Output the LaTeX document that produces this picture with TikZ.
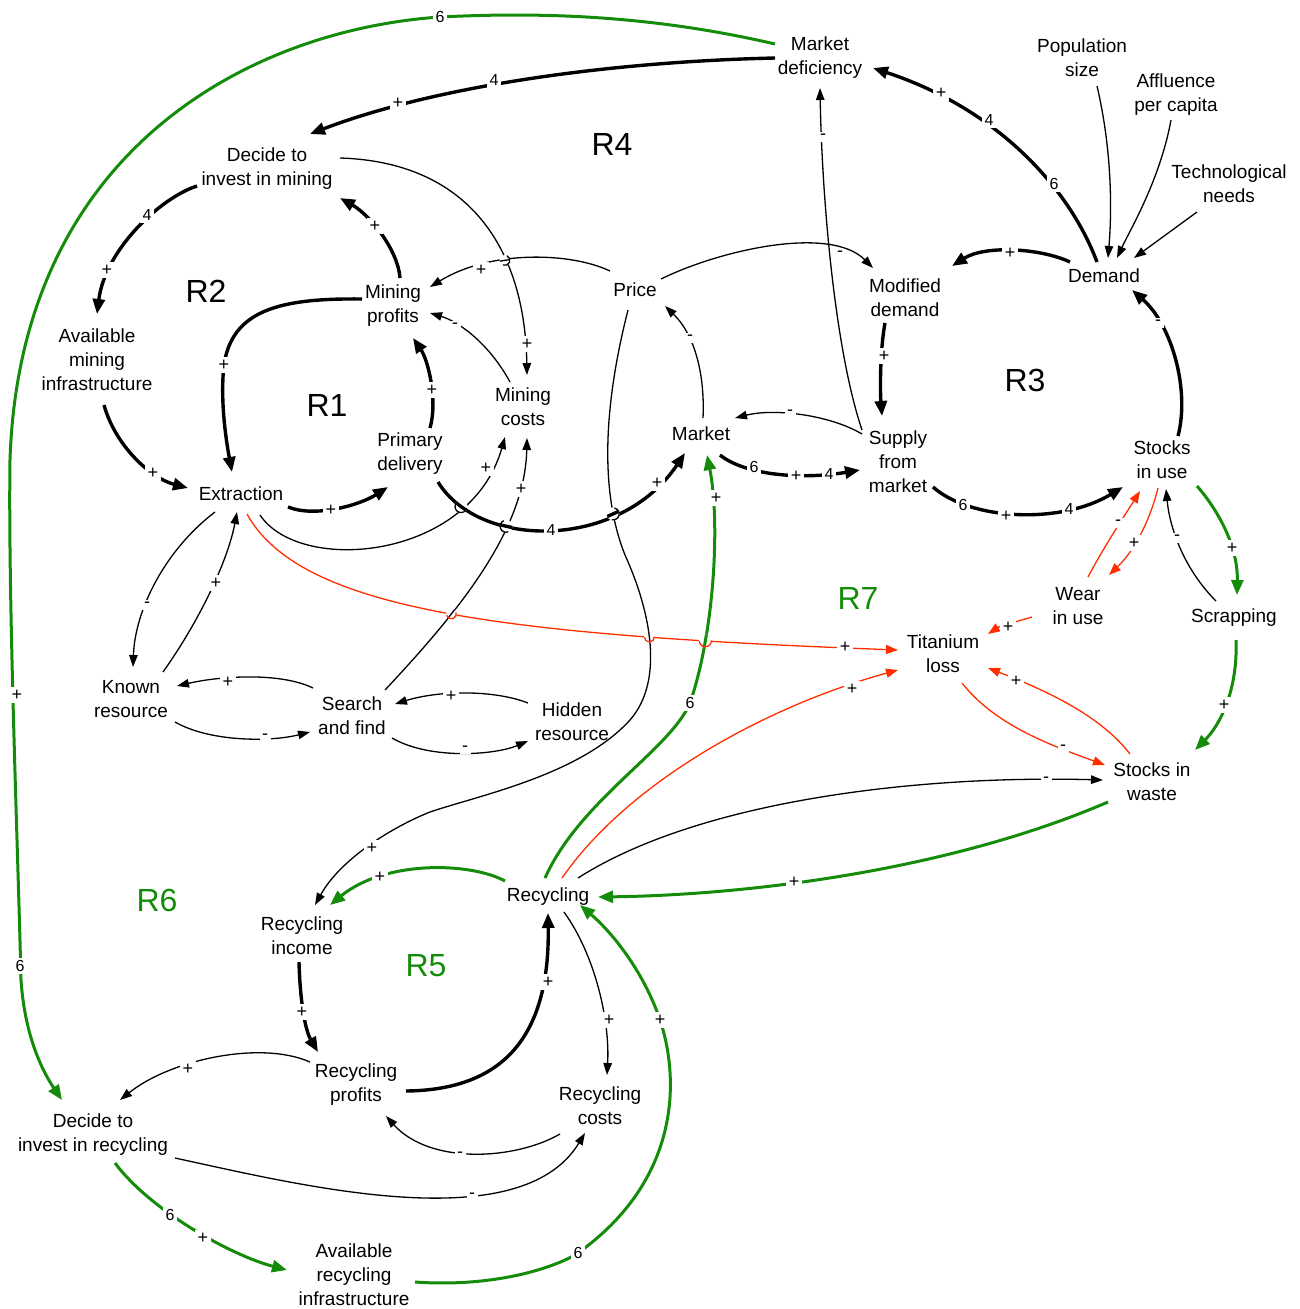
\documentclass[tikz,border=0pt]{standalone}
\usepackage{fontspec}
\setmainfont{Liberation Sans}
\usetikzlibrary{arrows.meta,intersections}
\definecolor{vgreen}{RGB}{20,140,10}
\definecolor{vred}{RGB}{255,45,0}
\tikzset{
  var/.style={align=center, inner sep=0pt, font=\fontsize{19}{24}\selectfont},
  loopname/.style={inner sep=0pt, font=\fontsize{32}{32}\selectfont},
  cthin/.style={line width=1.3pt, -{Triangle[length=12pt,width=8.5pt]}},
  cthick/.style={line width=3.4pt, -{Triangle[length=15pt,width=12pt]}},
  cgrn/.style={draw=vgreen, line width=3pt, -{Triangle[length=15pt,width=12pt]}},
  cred/.style={draw=vred, line width=1.3pt, -{Triangle[length=12pt,width=9pt]}},
  lab/.style={fill=white, inner sep=2.5pt, text=black, font=\fontsize{18}{18}\selectfont},
  dlab/.style={fill=white, inner sep=2.5pt, text=black, font=\fontsize{16}{16}\selectfont},
  hopthin/.style={line width=1.3pt},
}
\def\pathSMC{([shift={(33,-26)}]sf.center) .. controls (460,610) and (525,530) .. ([shift={(4,31)}]mc.center)}
\def\pathPRI{([shift={(-7,20)}]price.center) .. controls (600,420) and (603,500) .. (625,555)
  .. controls (650,610) and (665,680) .. (630,720)
  .. controls (580,775) and (480,795) .. (430,812)
  .. controls (390,828) and (340,860) .. ([shift={(13,-31)}]ri.center)}
\def\pathRM{([shift={(-3,-19)}]rec.center) .. controls (580,800) and (670,750) .. (690,703)
  .. controls (715,630) and (720,520) .. ([shift={(6,21)}]mkt.center)}
\def\pathPMP{([shift={(-25,-19)}]price.center) .. controls (570,252) and (490,250) .. ([shift={(37,-19)}]mp.center)}
\def\pathPDM{([shift={(28,28)}]pd.center) .. controls (480,550) and (620,550) .. ([shift={(-16,19)}]mkt.center)}
\begin{document}
\begin{tikzpicture}[x=1pt,y=-1pt]
\useasboundingbox (0,0) rectangle (1299,1309);
% ---------- variables ----------
\node[var] (md) at (820,58) {Market\\deficiency};
\node[var] (pop) at (1082,58) {Population\\size};
\node[var] (aff) at (1176,95) {Affluence\\per capita};
\node[var] (tech) at (1229,184) {Technological\\needs};
\node[var] (dim) at (267,169) {Decide to\\invest in mining};
\node[var] (ami) at (97,360) {Available\\mining\\infrastructure};
\node[var] (mp) at (393,306) {Mining\\profits};
\node[var] (price) at (635,290) {Price};
\node[var] (mdem) at (905,298) {Modified\\demand};
\node[var] (dem) at (1104,276) {Demand};
\node[var] (mc) at (523,407) {Mining\\costs};
\node[var] (pd) at (410,454) {Primary\\delivery};
\node[var] (mkt) at (701,434) {Market};
\node[var] (sfm) at (898,462) {Supply\\from\\market};
\node[var] (siu) at (1162,460) {Stocks\\in use};
\node[var] (ext) at (241,494) {Extraction};
\node[var] (wiu) at (1078,606) {Wear\\in use};
\node[var] (scr) at (1234,618) {Scrapping};
\node[var] (tl) at (943,654) {Titanium\\loss};
\node[var] (kr) at (131,699) {Known\\resource};
\node[var] (sf) at (352,716) {Search\\and find};
\node[var] (hr) at (572,722) {Hidden\\resource};
\node[var] (siw) at (1152,782) {Stocks in\\waste};
\node[var] (rec) at (548,897) {Recycling};
\node[var] (ri) at (302,936) {Recycling\\income};
\node[var] (rp) at (356,1085) {Recycling\\profits};
\node[var] (rc) at (600,1106) {Recycling\\costs};
\node[var] (dir) at (93,1135) {Decide to\\invest in recycling};
\node[var] (ari) at (354,1275) {Available\\recycling\\infrastructure};
% ---------- loop names ----------
\node[loopname] (r4) at (612,144) {R4};
\node[loopname] (r2) at (206,291) {R2};
\node[loopname] (r1) at (327,405) {R1};
\node[loopname] (r3) at (1025,380) {R3};
\node[loopname, text=vgreen] (r7) at (858,598) {R7};
\node[loopname, text=vgreen] (r6) at (157,900) {R6};
\node[loopname, text=vgreen] (r5) at (426,966) {R5};
% ---------- connectors ----------
\draw[cthick] ([shift={(-45,0)}]md.center) .. controls (600,62) and (430,88) .. ([shift={(43,-35)}]dim.center)
  node[dlab] (l1) at (494,80) {4} node[lab] (l2) at (398,103) {+};
\draw[cgrn] ([shift={(-45,-14)}]md.center) .. controls (650,15) and (540,12) .. (440,17)
  .. controls (250,30) and (20,150) .. (10,460)
  .. controls (8,600) and (18,850) .. (21,980)
  .. controls (25,1040) and (45,1075) .. ([shift={(-31,-35)}]dir.center)
  node[dlab] (l3) at (440,17) {6} node[lab] (l4) at (17,695) {+} node[dlab] (l5) at (20,966) {6};
\draw[cthick] ([shift={(-7,-14)}]dem.center) .. controls (1070,190) and (1000,110) .. ([shift={(53,10)}]md.center)
  node[dlab] (l6) at (1054,184) {6} node[dlab] (l7) at (989,120) {4} node[lab] (l8) at (941,93) {+};
\draw[cthin] ([shift={(-36,-32)}]sfm.center) .. controls (835,350) and (822,200) .. ([shift={(0,30)}]md.center)
  node[lab] (l9) at (823,137) {-};
\draw[cthin] ([shift={(15,28)}]pop.center) .. controls (1112,150) and (1112,210) .. ([shift={(4,-18)}]dem.center);
\draw[cthin] ([shift={(-5,25)}]aff.center) .. controls (1160,180) and (1130,230) .. ([shift={(13,-18)}]dem.center);
\draw[cthin] ([shift={(-32,28)}]tech.center) -- ([shift={(30,-18)}]dem.center);
\draw[cthick] ([shift={(-34,-14)}]dem.center) .. controls (1040,248) and (985,245) .. ([shift={(47,-32)}]mdem.center)
  node[lab] (l10) at (1010,253) {+};
\draw[cthick] ([shift={(16,-24)}]siu.center) .. controls (1190,390) and (1172,325) .. ([shift={(28,14)}]dem.center)
  node[lab] (l11) at (1158,323) {-};
\draw[cthick] ([shift={(-20,25)}]mdem.center) .. controls (880,350) and (880,390) .. ([shift={(-16,-46)}]sfm.center)
  node[lab] (l12) at (884,356) {+};
\draw[cthin] ([shift={(26,-11)}]price.center) .. controls (720,250) and (830,225) .. ([shift={(-32,-30)}]mdem.center)
  node[lab] (l13) at (840,254) {-};
\draw[cthin, name path=pPMP] \pathPMP node[lab] (l14) at (481,270) {+};
\draw[cthin] ([shift={(2,-16)}]mkt.center) .. controls (705,375) and (695,335) .. ([shift={(30,16)}]price.center)
  node[lab] (l15) at (690,338) {-};
\draw[cthin] ([shift={(-36,-28)}]sfm.center) .. controls (830,415) and (775,408) .. ([shift={(34,-16)}]mkt.center)
  node[lab] (l16) at (790,413) {-};
\draw[cthick] ([shift={(19,21)}]mkt.center) .. controls (745,475) and (800,480) .. ([shift={(-38,8)}]sfm.center)
  node[dlab] (l17) at (754,467) {6} node[lab] (l18) at (796,476) {+} node[dlab] (l19) at (829,474) {4};
\draw[cthick] ([shift={(35,25)}]sfm.center) .. controls (970,520) and (1060,525) .. ([shift={(-39,27)}]siu.center)
  node[dlab] (l20) at (963,505) {6} node[lab] (l21) at (1006,516) {+} node[dlab] (l22) at (1069,509) {4};
\draw[cthick, name path=pPDM] \pathPDM node[dlab] (l23) at (551,530) {4} node[lab] (l24) at (657,483) {+};
\draw[cthick] ([shift={(47,13)}]ext.center) .. controls (315,518) and (360,505) .. ([shift={(-22,33)}]pd.center)
  node[lab] (l25) at (331,510) {+};
\draw[cthick] ([shift={(-31,-7)}]mp.center) .. controls (280,298) and (232,310) .. (224,365)
  .. controls (220,400) and (226,440) .. ([shift={(-9,-22)}]ext.center)
  node[lab] (l26) at (224,365) {+};
\draw[cthick] ([shift={(7,45)}]ami.center) .. controls (115,445) and (150,478) .. ([shift={(-53,-6)}]ext.center)
  node[lab] (l27) at (153,473) {+};
\draw[cthick] ([shift={(-70,17)}]dim.center) .. controls (160,198) and (105,250) .. ([shift={(0,-46)}]ami.center)
  node[dlab] (l28) at (147,215) {4} node[lab] (l29) at (107,270) {+};
\draw[cthick] ([shift={(7,-28)}]mp.center) .. controls (398,250) and (370,215) .. ([shift={(73,29)}]dim.center)
  node[lab] (l30) at (375,226) {+};
\draw[cthick] ([shift={(20,-26)}]pd.center) .. controls (438,400) and (428,360) .. ([shift={(20,32)}]mp.center)
  node[lab] (l31) at (432,390) {+};
\draw[cthin] ([shift={(-13,-25)}]mc.center) .. controls (490,345) and (460,322) .. ([shift={(37,7)}]mp.center)
  node[lab] (l32) at (455,326) {-};
\draw[cthin, name path=pDMC] ([shift={(73,-11)}]dim.center) .. controls (470,162) and (525,250) .. ([shift={(4,-32)}]mc.center)
  node[lab] (l33) at (527,344) {+};
\draw[cthin, name path=pEMC] ([shift={(19,21)}]ext.center) .. controls (300,575) and (470,560) .. ([shift={(-18,30)}]mc.center)
  node[lab] (l34) at (486,468) {+};
\draw[cthin, name path=pSMC] \pathSMC node[lab] (l35) at (521,489) {+};
\draw[cthin, name path=pPRI] \pathPRI node[lab] (l36) at (372,848) {+};
\draw[cgrn, name path=pRM] \pathRM node[dlab] (l37) at (690,703) {6} node[lab] (l38) at (716,498) {+};
\draw[cgrn] ([shift={(35,26)}]siu.center) .. controls (1222,515) and (1238,550) .. ([shift={(3,-23)}]scr.center)
  node[lab] (l39) at (1232,548) {+};
\draw[cgrn] ([shift={(2,22)}]scr.center) .. controls (1238,690) and (1220,725) .. ([shift={(43,-32)}]siw.center)
  node[lab] (l40) at (1224,705) {+};
\draw[cthin] ([shift={(-18,-17)}]scr.center) .. controls (1185,570) and (1170,530) .. ([shift={(4,29)}]siu.center)
  node[lab] (l41) at (1177,538) {-};
\draw[cred] ([shift={(10,-29)}]wiu.center) .. controls (1105,545) and (1125,515) .. ([shift={(-22,31)}]siu.center)
  node[lab] (l42) at (1118,523) {-};
\draw[cred] ([shift={(-4,28)}]siu.center) .. controls (1150,520) and (1135,550) .. ([shift={(31,-31)}]wiu.center)
  node[lab] (l43) at (1134,543) {+};
\draw[cred] ([shift={(-46,11)}]wiu.center) .. controls (1015,622) and (1000,626) .. ([shift={(45,-20)}]tl.center)
  node[lab] (l44) at (1008,627) {+};
\draw[cred, name path=pRE] ([shift={(6,20)}]ext.center) .. controls (300,610) and (500,635) .. ([shift={(-45,-4)}]tl.center)
  node[lab] (l45) at (845,647) {+};
\draw[cred] ([shift={(14,-19)}]rec.center) .. controls (630,780) and (770,705) .. ([shift={(-45,16)}]tl.center)
  node[lab] (l46) at (852,689) {+};
\draw[cred] ([shift={(19,29)}]tl.center) .. controls (995,725) and (1050,745) .. ([shift={(-47,-17)}]siw.center)
  node[lab] (l47) at (1063,748) {-};
\draw[cred] ([shift={(-22,-28)}]siw.center) .. controls (1100,715) and (1045,690) .. ([shift={(45,14)}]tl.center)
  node[lab] (l48) at (1016,681) {+};
\draw[cthin] ([shift={(30,-19)}]rec.center) .. controls (700,800) and (920,775) .. ([shift={(-49,-2)}]siw.center)
  node[lab] (l49) at (1046,780) {-};
\draw[cgrn] ([shift={(-44,20)}]siw.center) .. controls (950,870) and (750,895) .. ([shift={(50,0)}]rec.center)
  node[lab] (l50) at (794,882) {+};
\draw[cgrn] ([shift={(-43,-16)}]rec.center) .. controls (470,862) and (385,860) .. ([shift={(28,-31)}]ri.center)
  node[lab] (l51) at (380,877) {+};
\draw[cthick] ([shift={(-3,26)}]ri.center) .. controls (300,1000) and (305,1030) .. ([shift={(-38,-33)}]rp.center)
  node[lab] (l52) at (302,1012) {+};
\draw[cthick] ([shift={(50,6)}]rp.center) .. controls (500,1090) and (550,1040) .. ([shift={(0,16)}]rec.center)
  node[lab] (l53) at (548,982) {+};
\draw[cthin] ([shift={(16,15)}]rec.center) .. controls (595,955) and (610,1020) .. ([shift={(7,-31)}]rc.center)
  node[lab] (l54) at (609,1020) {+};
\draw[cgrn] ([shift={(61,7)}]ari.center) .. controls (500,1288) and (560,1265) .. (578,1253)
  .. controls (680,1180) and (680,1080) .. (660,1020)
  .. controls (645,975) and (615,935) .. ([shift={(32,8)}]rec.center)
  node[dlab] (l55) at (578,1253) {6} node[lab] (l56) at (660,1020) {+};
\draw[cthin] ([shift={(-40,28)}]rc.center) .. controls (515,1160) and (430,1165) .. ([shift={(30,31)}]rp.center)
  node[lab] (l57) at (460,1155) {-};
\draw[cthin] ([shift={(82,23)}]dir.center) .. controls (300,1185) and (520,1240) .. ([shift={(-15,27)}]rc.center)
  node[lab] (l58) at (472,1196) {-};
\draw[cthin] ([shift={(-46,-23)}]rp.center) .. controls (260,1040) and (170,1060) .. ([shift={(27,-35)}]dir.center)
  node[lab] (l59) at (188,1069) {+};
\draw[cgrn] ([shift={(22,28)}]dir.center) .. controls (150,1210) and (230,1255) .. ([shift={(-67,-5)}]ari.center)
  node[dlab] (l60) at (170,1215) {6} node[lab] (l61) at (203,1238) {+};
\draw[cthin] ([shift={(-26,18)}]ext.center) .. controls (165,550) and (135,610) .. ([shift={(2,-32)}]kr.center)
  node[lab] (l62) at (147,605) {-};
\draw[cthin] ([shift={(32,-27)}]kr.center) .. controls (200,620) and (228,560) .. ([shift={(-4,18)}]ext.center)
  node[lab] (l63) at (216,583) {+};
\draw[cthin] ([shift={(-39,-28)}]sf.center) .. controls (280,672) and (220,676) .. ([shift={(46,-13)}]kr.center)
  node[lab] (l64) at (228,682) {+};
\draw[cthin] ([shift={(44,23)}]kr.center) .. controls (210,742) and (270,742) .. ([shift={(-42,16)}]sf.center)
  node[lab] (l65) at (265,737) {-};
\draw[cthin] ([shift={(-44,-19)}]hr.center) .. controls (495,690) and (440,690) .. ([shift={(43,-12)}]sf.center)
  node[lab] (l66) at (451,696) {+};
\draw[cthin] ([shift={(40,22)}]sf.center) .. controls (430,760) and (495,755) .. ([shift={(-44,19)}]hr.center)
  node[lab] (l67) at (465,749) {-};
% ---------- line hops at crossings ----------
\path[name intersections={of=pRE and pSMC, by={h1}}];
\path[name intersections={of=pRE and pPRI, by={h2}}];
\path[name intersections={of=pRE and pRM, by={h3}}];
\path[name intersections={of=pDMC and pPMP, by={h4}}];
\path[name intersections={of=pPRI and pPDM, by={h5}}];
\path[name intersections={of=pEMC and pPDM, by={h6}}];
\path[name intersections={of=pSMC and pPDM, by={h7}}];
% hop 1: red over Search->Mining costs
\fill[white] (h1) circle[radius=5.5pt];
\begin{scope}\clip (h1) circle[radius=5.5pt]; \draw[hopthin] \pathSMC; \end{scope}
\draw[vred, hopthin] ([shift={(197:5pt)}]h1) arc[start angle=197, end angle=377, radius=5pt];
% hop 2: red over Price->Recycling income
\fill[white] (h2) circle[radius=5.5pt];
\begin{scope}\clip (h2) circle[radius=5.5pt]; \draw[hopthin] \pathPRI; \end{scope}
\draw[vred, hopthin] ([shift={(184:5pt)}]h2) arc[start angle=184, end angle=364, radius=5pt];
% hop 3: red over green Recycling->Market
\fill[white] (h3) circle[radius=6.5pt];
\begin{scope}\clip (h3) circle[radius=6.5pt]; \draw[vgreen, line width=3pt] \pathRM; \end{scope}
\draw[vred, hopthin] ([shift={(184:6pt)}]h3) arc[start angle=184, end angle=364, radius=6pt];
% hop 4: Decide->Mining costs over Price->Mining profits
\fill[white] (h4) circle[radius=5.5pt];
\begin{scope}\clip (h4) circle[radius=5.5pt]; \draw[hopthin] \pathPMP; \end{scope}
\draw[hopthin] ([shift={(246:5pt)}]h4) arc[start angle=246, end angle=426, radius=5pt];
% hop 5: Price->Recycling income over Primary delivery->Market
\fill[white] (h5) circle[radius=6.5pt];
\begin{scope}\clip (h5) circle[radius=6.5pt]; \draw[line width=3.4pt] \pathPDM; \end{scope}
\draw[hopthin] ([shift={(258:6pt)}]h5) arc[start angle=258, end angle=438, radius=6pt];
% hop 6: Extraction->Mining costs over Primary delivery->Market
\fill[white] (h6) circle[radius=6.5pt];
\begin{scope}\clip (h6) circle[radius=6.5pt]; \draw[line width=3.4pt] \pathPDM; \end{scope}
\draw[hopthin] ([shift={(139:6pt)}]h6) arc[start angle=139, end angle=319, radius=6pt];
% hop 7: Search->Mining costs over Primary delivery->Market
\fill[white] (h7) circle[radius=6.5pt];
\begin{scope}\clip (h7) circle[radius=6.5pt]; \draw[line width=3.4pt] \pathPDM; \end{scope}
\draw[hopthin] ([shift={(112:6pt)}]h7) arc[start angle=112, end angle=292, radius=6pt];
\end{tikzpicture}
\end{document}
